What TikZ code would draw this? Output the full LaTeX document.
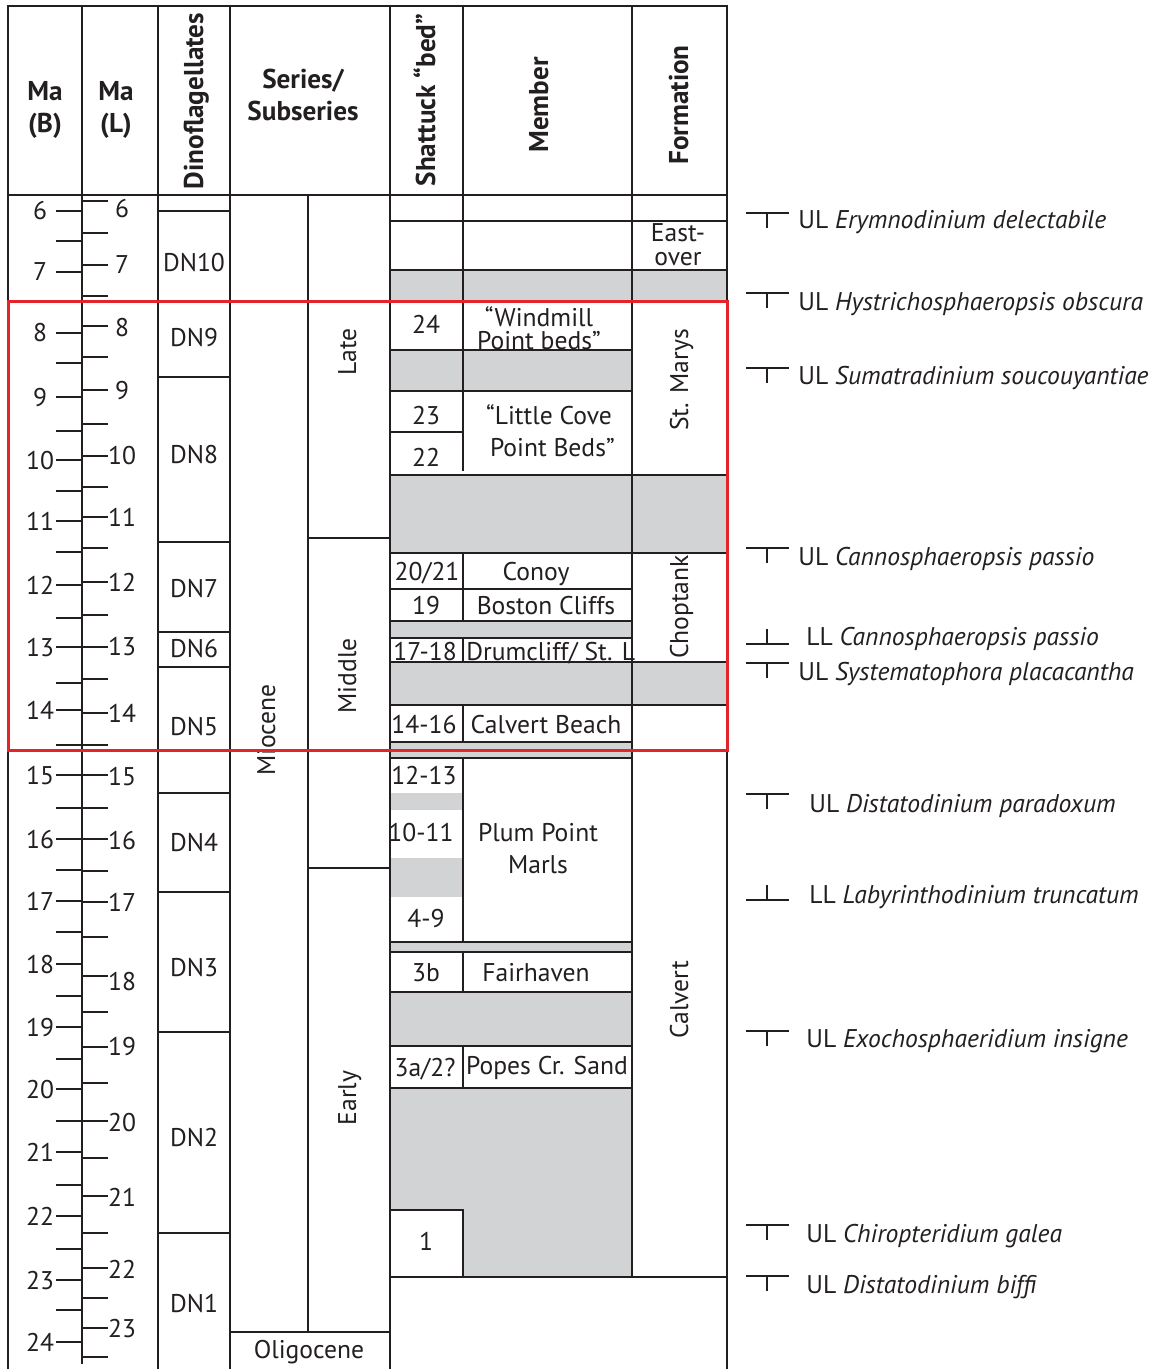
\documentclass[tikz,border=0pt]{standalone}
\usepackage{fontspec}
\setmainfont{PT Sans}
\definecolor{ln}{HTML}{231F20}
\definecolor{gr}{HTML}{D1D3D4}
\definecolor{rd}{HTML}{E3242B}
\newcommand\myfs{\fontsize{12.8}{13}\selectfont}
\newcommand\myhfs{\fontsize{13.6}{16}\selectfont}
\begin{document}
\begin{tikzpicture}[x=0.5pt,y=-0.5pt,
  rule/.style={line width=1.4pt, draw=ln, line cap=rect},
  tick/.style={line width=1.4pt, draw=ln},
  sym/.style={line width=0.7pt, draw=ln},
  txt/.style={inner sep=0pt, anchor=mid, font=\myfs, text=ln, yshift=-2pt},
  mtxt/.style={inner sep=0pt, anchor=center, text=ln, align=center},
  rtxt/.style={inner sep=0pt, anchor=mid, font=\myfs, text=ln, xshift=1.5pt, rotate=90},
  rhdr/.style={inner sep=0pt, anchor=mid, font=\myhfs\bfseries, text=ln, xshift=1.5pt, rotate=90},
  hdr/.style={inner sep=0pt, anchor=center, font=\myhfs\bfseries, text=ln, align=center},
  sp/.style={inner sep=0pt, anchor=mid west, font=\myfs, text=ln, yshift=-2pt}]
\useasboundingbox (0,0) rectangle (1165,1369);
\fill[white] (0,0) rectangle (1165,1369);

% grey hiatus bands
\foreach \a/\b in {270/302,475/553,662/705}
  \fill[gr] (390,\a) rectangle (727,\b);
\foreach \a/\b in {350/391,621/638,742/758,942/952,992/1046,1088/1210}
  \fill[gr] (390,\a) rectangle (632,\b);
\foreach \a/\b in {793/810,858/897}
  \fill[gr] (390,\a) rectangle (463,\b);
\fill[gr] (463,1210) rectangle (632,1277);

% outer frame and columns
\draw[rule] (8,6) -- (727,6);
\draw[rule] (8,195) -- (727,195);
\draw[rule] (8,6) -- (8,1369);
\draw[rule] (82,6) -- (82,1363);
\draw[rule] (158,6) -- (158,1369);
\draw[rule] (230,6) -- (230,1369);
\draw[rule] (390,6) -- (390,1369);
\draw[rule] (463,6) -- (463,195);
\draw[rule] (632,6) -- (632,1277);
\draw[rule] (727,6) -- (727,1369);
\draw[rule] (308,195) -- (308,1332);

% dinoflagellate zones
\foreach \y in {211,302,377,542,632,667,793,892,1032,1233}
  \draw[rule] (158,\y) -- (230,\y);
% series
\draw[rule] (308,538) -- (390,538);
\draw[rule] (308,868) -- (390,868);
\draw[rule] (230,1332) -- (390,1332);
% strata
\foreach \y in {221,270,302,475,553,662,705,1277}
  \draw[rule] (390,\y) -- (727,\y);
\foreach \y in {350,391,589,621,638,742,758,942,952,992,1046,1088}
  \draw[rule] (390,\y) -- (632,\y);
\foreach \y in {432,1210}
  \draw[rule] (390,\y) -- (463,\y);
\foreach \a/\b in {195/470,553/621,638/662,705/742,758/942,952/992,1046/1088,1210/1277}
  \draw[rule] (463,\a) -- (463,\b);

% Ma (B) scale
\foreach \m/\y in {6/211,7/272,8/333,9/397,10/460,11/521,12/585,13/647,14/710,15/775,16/839,17/901,18/964,19/1027,20/1089,21/1152,22/1216,23/1280,24/1342}{
  \draw[tick] (56,\y) -- (82,\y);
  \node[txt] (B\m) at (40,\y) {\m};
}
\foreach \y in {241,302,363,431,491,552,618,683,745,808,870,932,996,1059,1121,1185,1249,1310}
  \draw[tick] (56,\y) -- (82,\y);
% Ma (L) scale
\foreach \m/\y/\t in {6/201/209,7/265/265,8/326/327,9/390/391,10/456/455,11/517/517,12/582/582,13/647/646,14/713/713,15/775/776,16/839/840,17/902/902,18/976/981,19/1047/1046,20/1121/1122,21/1196/1197,22/1268/1269,23/1328/1328}{
  \draw[tick] (82,\y) -- (108,\y);
  \node[txt] (L\m) at (122,\t) {\m};
}
\foreach \y in {233,296,357,424,487,548,615,679,745,808,871,937,1012,1083,1158,1233,1298,1357}
  \draw[tick] (82,\y) -- (108,\y);

% headers
\node[hdr] (hB) at (45,110) {Ma\\(B)};
\node[hdr] (hL) at (116,110) {Ma\\(L)};
\node[rhdr] (hD) at (195,101) {Dinoflagellates};
\node[hdr] (hS) at (303,95) {Series/\\Subseries};
\node[rhdr] (hSh) at (427,100) {Shattuck “bed”};
\node[rhdr] (hM) at (540,105) {Member};
\node[rhdr] (hF) at (680,105) {Formation};

% dinoflagellate zone labels
\foreach \n/\y in {DN10/263,DN9/338,DN8/454,DN7/588,DN6/648,DN5/726,DN4/842,DN3/967,DN2/1137,DN1/1303}
  \node[txt] (z\n) at (194,\y) {\n};

% series labels
\node[rtxt] (mio) at (267,730) {Miocene};
\node[rtxt] (late) at (348,352) {Late};
\node[rtxt] (mid) at (348,676) {Middle};
\node[rtxt] (early) at (348,1098) {Early};
\node[txt] (oli) at (309,1349) {Oligocene};

% Shattuck beds
\foreach \n/\x/\y/\t in {a/426/325/24,b/426/415/23,c/426/457/22,d/427/571/20\slash 21,e/426/605/19,f/425/651/17-18,g/424/724/14-16,h/424/775/12-13,i/421/832/10-11,j/426/918/4-9,k/426/972/3b,l/425/1067/3a\slash 2?,m/426/1241/1}
  \node[txt] (s\n) at (\x,\y) {\t};

% members
\node[mtxt,font=\fontsize{12.8}{11.6}\selectfont] (wp) at (539,328) {“Windmill\\Point beds”};
\node[mtxt,font=\fontsize{12.8}{16}\selectfont] (lc) at (549,431) {“Little Cove\\\ Point Beds”};
\node[txt] (con) at (536,571) {Conoy};
\node[txt] (bc) at (546,605) {Boston Cliffs};
\node[txt,anchor=mid west] (dr) at (466,651) {Drumcliff/ St. L};
\node[txt] (cb) at (546,724) {Calvert Beach};
\node[mtxt,font=\fontsize{12.8}{16}\selectfont] (pp) at (538,849) {Plum Point\\Marls};
\node[txt] (fh) at (536,972) {Fairhaven};
\node[txt] (pc) at (547,1065) {Popes Cr. Sand};

% formations
\node[mtxt,font=\fontsize{12.8}{12}\selectfont] (eo) at (678,245) {East-\\over};
\node[rtxt] (sm) at (680,380) {St. Marys};
\node[rtxt] (ct) at (680,607) {Choptank};
\node[rtxt] (cv) at (680,1000) {Calvert};

% dinoflagellate events
\foreach \n/\y/\ty/\tx/\k/\g in {
  e1/213/220/798/UL/Erymnodinium delectabile,
  e2/293/302/798/UL/Hystrichosphaeropsis obscura,
  e3/368/376/798/UL/Sumatradinium soucouyantiae,
  e4/548/556/798/UL/Cannosphaeropsis passio,
  e6/663/671/798/UL/Systematophora placacantha,
  e7/794/803/809/UL/Distatodinium paradoxum,
  e9/1031/1038/806/UL/Exochosphaeridium insigne,
  e10/1225/1233/806/UL/Chiropteridium galea,
  e11/1276/1284/806/UL/Distatodinium biffi}{
  \draw[sym] (746,\y) -- (789,\y);
  \draw[sym] (767,\y) -- (767,\y+15);
  \node[sp] (\n) at (\tx,\ty) {\k\ \textit{\g}};
}
\foreach \n/\y/\ty/\tx/\k/\g in {
  e5/644/636/806/LL/Cannosphaeropsis passio,
  e8/900/894/809/LL/Labyrinthodinium truncatum}{
  \draw[sym] (746,\y) -- (789,\y);
  \draw[sym] (767,\y) -- (767,\y-15);
  \node[sp] (\n) at (\tx,\ty) {\k\ \textit{\g}};
}

% highlighted interval
\draw[line width=1.5pt, draw=rd] (8,302) rectangle (727,750);
\end{tikzpicture}
\end{document}
